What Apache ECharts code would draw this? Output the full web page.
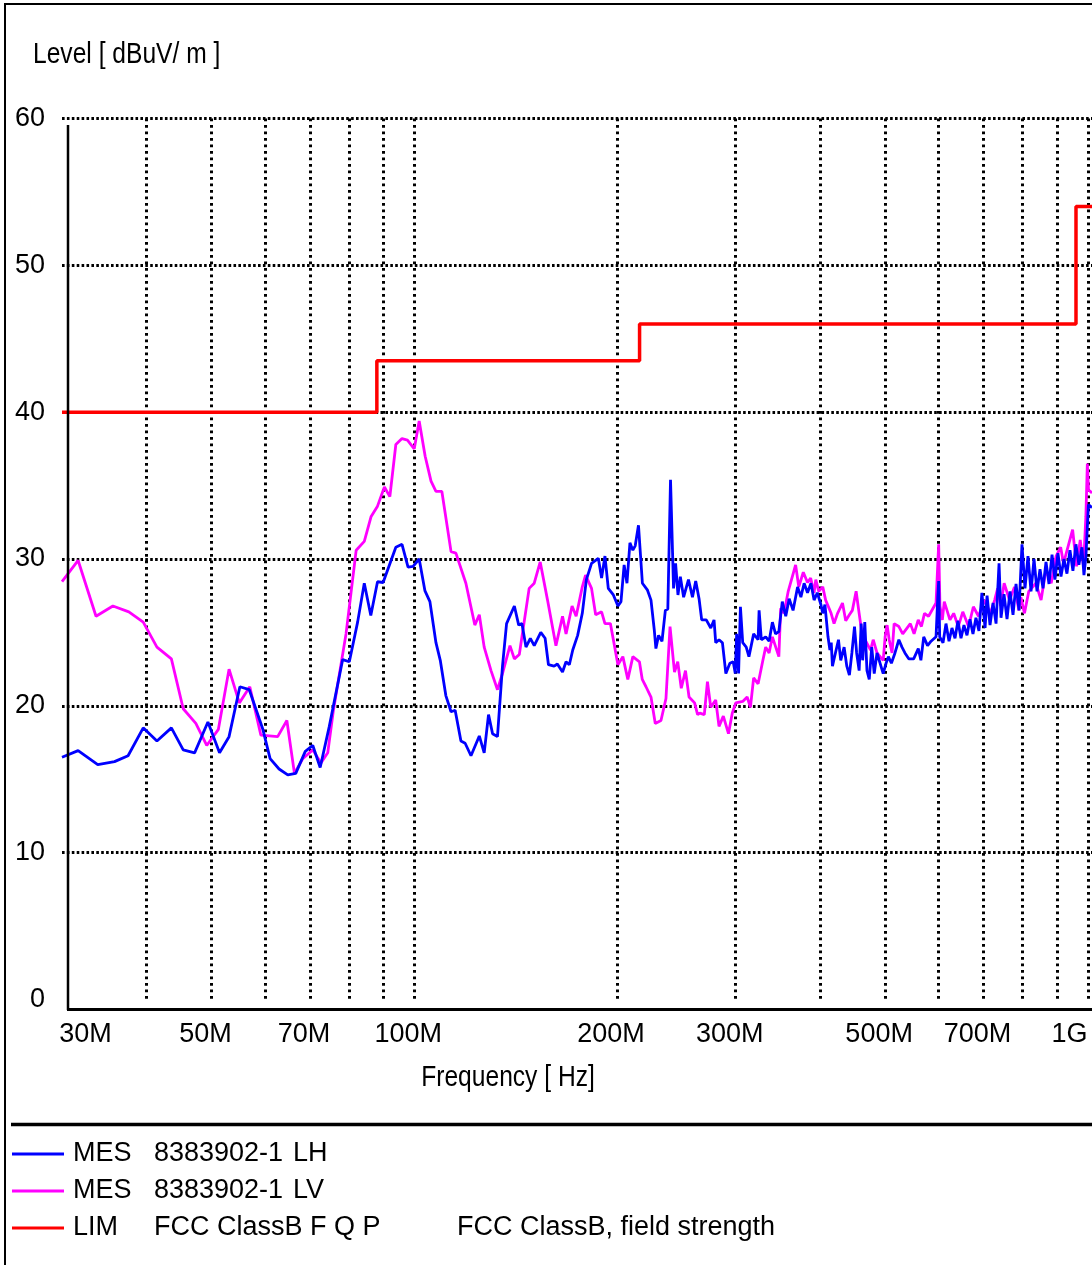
<!DOCTYPE html>
<html>
<head>
<meta charset="utf-8">
<script src="https://cdn.jsdelivr.net/npm/echarts@6/dist/echarts.min.js"></script>
<style>
html,body{margin:0;padding:0;background:#fff;}
#chart{width:1092px;height:1265px;}
</style>
</head>
<body>
<div id="chart"></div>
<script>
// ---------- data (frequency in MHz, level in dBuV/m) ----------
const lhFreq = [30,31.7,33.9,35.9,37.6,39.6,41.5,43.6,45.4,47.2,49.4,51.4,53.1,55.1,56.9,59.6,61.1,63.0,64.9,66.7,68.9,70.7,72.5,74.8,78.3,80.1,82.4,84.3,86.2,88.2,89.9,93.9,95.9,97.9,99.6,101.7,103.7,105.5,107.7,109.3,111.4,113.4,115.0,117.3,119.0,121.4,124.9,127.0,128.9,130.7,132.9,135.2,137.1,140.8,142.9,144.5,146.5,148.7,150.7,154.1,156.4,158.2,161.3,163.1,166.0,168.0,169.9,171.9,174.8,177.6,180.1,183.3,187.6,189.7,191.9,194.1,197.5,200.6,202.7,204.9,206.9,209.0,211.1,212.8,215.2,218.1,221.8,224.6,227.1,228.4,230.5,233.2,235.9,237.9,240.1,242.6,244.3,246.3,248.3,251.1,255.3,258.8,261.7,264.7,267.1,271.3,275.5,278.6,280.2,283.4,286.7,290.1,294.1,297.5,299.6,301.0,303.0,304.9,307.3,311.0,313.9,319.0,323.9,325.0,327.5,332.4,336.3,340.1,343.8,347.7,351.8,356.0,360.2,365.0,370.7,374.9,379.1,383.5,388.0,392.2,396.6,401.4,404.0,407.0,411.3,414.0,415.9,417.6,421.9,426.3,429.6,434.6,438.6,442.5,446.3,450.3,453.6,457.5,460.7,463.0,466.4,469.9,473.6,477.6,481.7,486.3,496.7,501.6,505.6,510.8,517.1,524.0,529.6,535.0,542.0,551.2,560.0,565.0,570.5,578.0,585.0,595.0,598.6,600.4,602.5,609.4,615.6,622,628.3,634.9,641.3,648,654.6,661.4,668.2,675.1,682,689,696,703.6,708.4,715.6,723,730.5,738,743,750.6,758.4,766.2,774.1,782.1,790.1,798.2,806.5,814.7,823.2,831.7,840.3,848.9,857.7,866.5,875.4,884.5,893.4,902.6,912,921.3,930.8,940.4,950,959.8,969.6,979.7,986.5,993.2,1001.7,1014];
const lhLevel = [16.5,16.95,16.0,16.2,16.6,18.5,17.6,18.5,17.0,16.8,18.9,16.8,17.9,21.3,21.1,18.4,16.4,15.7,15.3,15.4,16.9,17.3,15.8,18.6,23.15,23.0,25.7,28.35,26.15,28.45,28.4,30.8,31.0,29.45,29.5,30.0,27.85,27.1,24.3,23.1,20.7,19.6,19.7,17.6,17.45,16.6,17.95,16.8,19.4,18.1,17.9,22.7,25.6,26.8,25.5,25.6,24.0,24.6,24.1,25.0,24.6,22.8,22.7,22.85,22.3,23.0,22.8,23.8,24.8,26.3,28.6,29.7,30.05,28.7,30.2,28.0,27.55,26.8,27.1,29.6,28.35,31.1,30.6,30.9,32.3,28.35,27.9,27.2,25.2,23.9,24.8,24.4,26.5,26.6,35.4,28.0,29.7,27.55,28.8,27.4,28.6,27.4,28.5,27.3,25.85,25.85,25.3,25.85,24.3,24.5,24.3,22.2,22.9,23.0,22.2,24.9,22.2,26.75,24.3,24.0,23.35,24.9,24.5,26.5,24.5,24.7,24.4,25.7,24.9,25.05,27.1,26.1,27.3,26.5,28.1,27.4,28.35,27.7,28.35,27.2,27.7,26.9,26.3,26.9,24.7,23.8,24.3,22.7,23.6,24.5,23.1,24.0,22.7,22.1,23.6,25.4,23.6,22.4,25.6,23.1,25.7,22.4,21.8,24.0,22.2,23.6,22.2,22.9,23.35,22.9,23.6,24.5,24.0,23.6,23.2,23.2,23.9,23.1,24.7,24.1,24.4,24.7,27.4,28.5,24.7,24.3,25.6,24.4,25.3,24.6,25.8,24.6,25.5,24.8,25.9,24.9,26.0,25.1,27.7,25.3,27.5,25.5,27.0,25.6,29.7,26.0,27.6,25.9,27.8,26.2,28.3,26.5,31.0,28.0,30.2,27.8,30.0,27.8,29.3,28.0,29.8,28.3,30.3,28.6,30.4,28.8,30.0,29.0,30.6,29.2,31.0,29.6,30.8,28.9,30.2,33.7,33.5];

const lvFreq = [30,31.7,33.7,35.7,37.7,39.6,41.5,43.6,45.4,47.4,49.2,51.2,53.1,55.0,57.0,59.2,62.7,64.7,66.4,68.3,70.7,72.7,74.4,75.8,79.2,82.0,84.3,86.3,88.2,90.3,92.0,93.9,95.9,97.7,100.0,101.7,103.8,105.9,107.7,109.9,113.4,115.3,119.3,123.0,124.9,127.0,130.0,132.9,135.2,138.7,140.8,143.2,148.1,150.7,153.8,157.7,162.3,166.0,168.0,171.5,173.9,177.6,179.6,183.3,185.9,189.7,191.9,195.5,200.6,204.0,207.5,211.1,215.9,218.0,220.8,224.6,227.9,232.4,236.4,239.7,243.4,246.1,249.1,252.7,255.8,260.7,263.4,265.4,269.5,272.4,275.5,280.2,283.4,287.6,292.7,296.5,300.1,307.3,312.0,315.5,319.0,323.9,328.9,332.4,336.3,340.1,347.7,349.9,353.9,359.0,368.2,372.2,378.0,383.5,387.6,392.2,394.5,398.5,404.0,408.0,415.7,419.9,425.0,432.2,437.0,442.5,447.0,452.8,457.5,462.0,475.7,480.0,486.3,496.7,500.0,503.4,507.0,512.0,515.6,524.0,531.0,545.0,552.0,559.9,566.0,572.0,580.0,595.0,600.4,603.0,608.0,612.0,624.0,632.0,642.0,652.0,665.0,676.0,688.0,702.0,716.0,727.0,734.5,742.0,751.0,765.0,778.0,790.0,795.0,805.0,817.0,837.0,852.0,866.0,882.0,897.0,911.0,920.0,949.0,962.0,974.0,985.0,993.0,998.0,1002.0,1014.0];
const lvLevel = [28.46,29.9,26.1,26.8,26.4,25.7,24.0,23.2,19.8,18.8,17.3,18.4,22.5,20.2,21.3,18.0,17.9,19.0,15.4,16.4,17.0,16.1,16.8,19.6,24.9,30.6,31.2,32.9,33.6,34.9,34.25,37.8,38.2,38.1,37.5,39.4,37.0,35.3,34.6,34.6,30.5,30.4,28.35,25.5,26.2,24.0,22.4,21.1,22.2,24.1,23.2,23.5,28.0,28.35,29.8,27.2,24.1,26.1,24.9,26.8,26.1,28.1,28.9,28.0,26.2,26.4,25.6,25.6,22.8,23.35,21.8,23.35,23.0,21.8,21.3,20.6,18.8,19.0,20.5,25.4,22.3,23.0,21.2,22.4,20.6,20.2,19.4,19.5,19.4,21.65,19.9,20.4,18.6,19.3,18.1,19.5,20.2,20.3,20.6,19.9,21.9,21.5,23.0,24.0,23.6,24.7,23.35,26.65,26.3,27.8,29.6,28.1,29.1,28.4,28.7,27.7,28.6,27.8,28.1,27.2,26.3,25.6,26.3,27.0,25.8,26.2,26.5,27.8,26.3,24.9,23.8,24.5,23.6,23.1,24.7,25.5,24.5,23.6,25.6,25.4,24.9,25.6,24.9,25.85,25.4,26.3,26.1,27.0,31.0,26.8,25.85,27.1,25.85,26.3,25.4,26.4,25.4,26.75,26.1,27.2,26.3,27.2,28.0,26.8,28.35,27.2,28.1,26.5,27.4,26.3,27.8,28.35,27.2,29.25,28.35,30.2,30.8,29.7,32.0,29.5,31.3,29.5,32.9,36.5,34.7,34.5];

// FCC Class B limit (step function)
const limFreq = [30, 88, 216, 960, 1014];
const limLevel = [40, 43.5, 46, 54, 54];

// axis ticks / labels
const gridFreqs = [40,50,60,70,80,90,100,200,300,400,500,600,700,800,900,1000];
const labelFreqs = [30,50,70,100,200,300,500,700,1000];
const yTicks = [10,20,30,40,50,60];

// legend texts
const legendLH = ['MES', '8383902-1', 'LH'];
const legendLV = ['MES', '8383902-1', 'LV'];
const legendLIM = ['LIM', 'FCC ClassB F Q P', 'FCC ClassB, field strength'];

// ---------- chart ----------
const FONT = "'Liberation Sans',Arial,sans-serif";
const lg = Math.log10;
const toPairs = (fs, vs) => fs.map((f, i) => [lg(f), vs[i]]);

const nameLH = legendLH.join(' ');
const nameLV = legendLV.join(' ');
const nameLIM = legendLIM.join(' ');
const legendParts = {};
legendParts[nameLH] = legendLH;
legendParts[nameLV] = legendLV;
legendParts[nameLIM] = legendLIM;

const chart = echarts.init(document.getElementById('chart'), null, {renderer: 'canvas'});
const tokenBase = {fontFamily: FONT, fontSize: 27, color: '#000', lineHeight: 30};
const labelTok = {fontFamily: FONT, fontSize: 27, color: '#000'};

chart.setOption({
  animation: false,
  backgroundColor: '#fff',
  grid: {left: 62, right: 0, top: 118.5, bottom: 265.5, containLabel: false, outerBoundsMode: 'none'},
  xAxis: {
    type: 'value',
    min: lg(30),
    max: lg(1014),
    axisLine: {show: false},
    axisTick: {show: false, customValues: gridFreqs.map(lg)},
    splitLine: {show: true, lineStyle: {color: '#000', width: 3, type: [2.7, 3.8]}},
    axisLabel: {
      customValues: labelFreqs.map(lg),
      margin: 22,
      formatter: function (v) {
        const f = Math.round(Math.pow(10, v));
        const t = f >= 1000 ? (f / 1000) + 'G' : f + 'M';
        if (f === labelFreqs[0]) return '{s|' + t + '}';
        if (f === labelFreqs[labelFreqs.length - 1]) return '{e|' + t + '}';
        return '{m|' + t + '}';
      },
      rich: {
        s: Object.assign({}, labelTok, {padding: [0, 0, 0, 47]}),
        m: Object.assign({}, labelTok, {padding: [0, 12, 0, 0]}),
        e: Object.assign({}, labelTok, {padding: [0, 37, 0, 0]})
      }
    }
  },
  yAxis: {
    type: 'value',
    min: 0,
    max: 60,
    interval: 10,
    axisLine: {show: false},
    axisTick: {show: false, customValues: yTicks},
    splitLine: {show: true, lineStyle: {color: '#000', width: 3, type: [2.6, 2.3]}},
    axisLabel: {margin: 17, fontFamily: FONT, fontSize: 27, color: '#000'}
  },
  legend: {
    orient: 'vertical',
    left: 12,
    top: 1139,
    padding: 0,
    itemWidth: 52,
    itemHeight: 3,
    itemGap: 7,
    icon: 'rect',
    selectedMode: false,
    data: [nameLH, nameLV, nameLIM],
    textStyle: {fontFamily: FONT, fontSize: 27, color: '#000', lineHeight: 30,
      rich: {
        a: Object.assign({}, tokenBase, {width: 81, padding: [0, 0, 0, 4]}),
        b: Object.assign({}, tokenBase, {width: 139}),
        d: Object.assign({}, tokenBase, {width: 303}),
        c: Object.assign({}, tokenBase)
      }
    },
    formatter: function (name) {
      const p = legendParts[name];
      const mid = p === legendLIM ? 'd' : 'b';
      return '{a|' + p[0] + '}{' + mid + '|' + p[1] + '}{c|' + p[2] + '}';
    }
  },
  graphic: [
    {type: 'rect', silent: true, z: 100, shape: {x: 5, y: 4, width: 1200, height: 1400},
      style: {fill: 'none', stroke: '#000', lineWidth: 2}},
    {type: 'line', silent: true, z: 100, shape: {x1: 68, y1: 125, x2: 68, y2: 1010},
      style: {stroke: '#000', lineWidth: 2.5}},
    {type: 'line', silent: true, z: 100, shape: {x1: 67, y1: 1009.5, x2: 1092, y2: 1009.5},
      style: {stroke: '#000', lineWidth: 3}},
    {type: 'line', silent: true, z: 100, shape: {x1: 11, y1: 1124.5, x2: 1092, y2: 1124.5},
      style: {stroke: '#000', lineWidth: 3.5}},
    {type: 'text', silent: true, z: 100, x: 33, y: 55, scaleX: 0.82,
      style: {text: 'Level [ dBuV/ m ]', font: '30px ' + FONT, fill: '#000', verticalAlign: 'middle'}},
    {type: 'text', silent: true, z: 100, x: 508, y: 1078, scaleX: 0.82,
      style: {text: 'Frequency [ Hz]', font: '30px ' + FONT, fill: '#000', align: 'center', verticalAlign: 'middle'}}
  ],
  series: [
    {name: nameLV, type: 'line', color: '#ff00ff', symbol: 'none', showSymbol: false,
      lineStyle: {color: '#ff00ff', width: 2.8}, itemStyle: {color: '#ff00ff'},
      data: toPairs(lvFreq, lvLevel)},
    {name: nameLH, type: 'line', color: '#0000ff', symbol: 'none', showSymbol: false,
      lineStyle: {color: '#0000ff', width: 2.8}, itemStyle: {color: '#0000ff'},
      data: toPairs(lhFreq, lhLevel)},
    {name: nameLIM, type: 'line', color: '#ff0000', symbol: 'none', showSymbol: false, step: 'end',
      lineStyle: {color: '#ff0000', width: 3.5}, itemStyle: {color: '#ff0000'},
      data: toPairs(limFreq, limLevel)}
  ]
});
</script>
</body>
</html>
